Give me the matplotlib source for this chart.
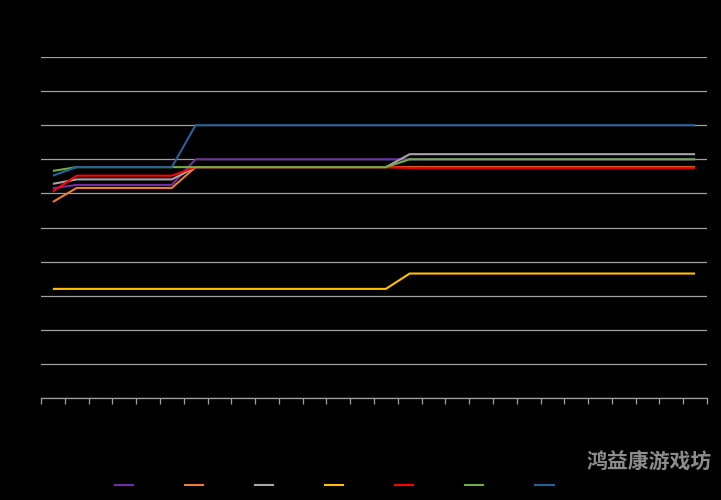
import matplotlib
matplotlib.use("Agg")
import matplotlib.pyplot as plt
from matplotlib.lines import Line2D

plt.rcParams['font.family'] = ['Noto Sans CJK SC', 'DejaVu Sans']

categories = [str(i) for i in range(1, 29)]
series_names = ["系列1", "系列2", "系列3", "系列4", "系列5", "系列6", "系列7"]
purple = [6.15, 6.25, 6.25, 6.25, 6.25, 6.25, 7.0, 7.0, 7.0, 7.0, 7.0, 7.0, 7.0, 7.0, 7.0,
          7.0, 7.0, 7.0, 7.0, 7.0, 7.0, 7.0, 7.0, 7.0, 7.0, 7.0, 7.0, 7.0]
orange = [5.75, 6.16, 6.16, 6.16, 6.16, 6.16, 6.77, 6.77, 6.77, 6.77, 6.77, 6.77, 6.77, 6.77, 6.77,
          6.77, 6.77, 6.77, 6.77, 6.77, 6.77, 6.77, 6.77, 6.77, 6.77, 6.77, 6.77, 6.77]
gray = [6.28, 6.41, 6.41, 6.41, 6.41, 6.41, 6.77, 6.77, 6.77, 6.77, 6.77, 6.77, 6.77, 6.77, 6.77,
        7.15, 7.15, 7.15, 7.15, 7.15, 7.15, 7.15, 7.15, 7.15, 7.15, 7.15, 7.15, 7.15]
yellow = [3.2, 3.2, 3.2, 3.2, 3.2, 3.2, 3.2, 3.2, 3.2, 3.2, 3.2, 3.2, 3.2, 3.2, 3.2,
          3.65, 3.65, 3.65, 3.65, 3.65, 3.65, 3.65, 3.65, 3.65, 3.65, 3.65, 3.65, 3.65]
red = [6.06, 6.52, 6.52, 6.52, 6.52, 6.52, 6.77, 6.77, 6.77, 6.77, 6.77, 6.77, 6.77, 6.77, 6.77,
       6.75, 6.75, 6.75, 6.75, 6.75, 6.75, 6.75, 6.75, 6.75, 6.75, 6.75, 6.75, 6.75]
green = [6.66, 6.77, 6.77, 6.77, 6.77, 6.77, 6.77, 6.77, 6.77, 6.77, 6.77, 6.77, 6.77, 6.77, 6.77,
         7.0, 7.0, 7.0, 7.0, 7.0, 7.0, 7.0, 7.0, 7.0, 7.0, 7.0, 7.0, 7.0]
blue = [6.52, 6.77, 6.77, 6.77, 6.77, 6.77, 8.0, 8.0, 8.0, 8.0, 8.0, 8.0, 8.0, 8.0, 8.0,
        8.0, 8.0, 8.0, 8.0, 8.0, 8.0, 8.0, 8.0, 8.0, 8.0, 8.0, 8.0, 8.0]

all_series = [purple, orange, gray, yellow, red, green, blue]
colors = ['#7030a0', '#ed7d31', '#a5a5a5', '#ffc000', '#ff0000', '#70ad47', '#2a6099']

fig = plt.figure(figsize=(7.21, 5.0), dpi=100, facecolor='black')
ax = fig.add_axes([41/721, 102/500, 666/721, 341/500], facecolor='black')

x = list(range(len(categories)))
for vals, c, name in zip(all_series, colors, series_names):
    ax.plot(x, vals, color=c, lw=1.5, label=name, solid_capstyle='butt', zorder=3)

ax.set_xlim(-0.5, len(categories) - 0.5)
ax.set_ylim(0, 10)
ax.set_yticks(range(0, 11))
ax.yaxis.grid(True, color='#a0a0a0', lw=0.9)
ax.set_axisbelow(True)
for s in ['top', 'right', 'left']:
    ax.spines[s].set_visible(False)
ax.spines['bottom'].set_color('#a0a0a0')
ax.spines['bottom'].set_linewidth(0.9)
ax.set_xticks([i - 0.5 for i in range(len(categories) + 1)])
ax.tick_params(axis='x', direction='out', length=4, color='#a0a0a0', width=0.9,
               labelbottom=False)
ax.tick_params(axis='y', length=0, labelleft=False)

handles = [Line2D([0], [0], color=c, lw=1.5) for c in colors]
leg = fig.legend(handles, series_names, loc='center', bbox_to_anchor=(355/721, 14/500),
                 ncol=7, frameon=False, fontsize=9, handlelength=1.45,
                 handletextpad=0.8, columnspacing=0.8, labelcolor='black')

fig.text(712/721, 38/500, "鸿益康游戏坊", color='#8c8c8c', fontsize=15,
         fontweight='bold', ha='right', va='center')

fig.savefig('out.png', dpi=100, facecolor='black')
